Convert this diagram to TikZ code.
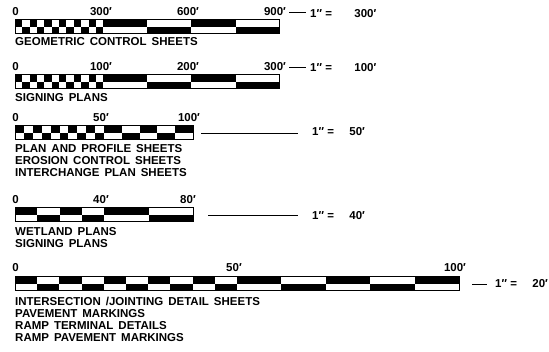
\documentclass[tikz,border=0pt]{standalone}
\usepackage{fontspec}
\setmainfont{Liberation Sans}
\usetikzlibrary{positioning}
\tikzset{
  every node/.style={inner sep=0pt, font=\fontsize{11.5}{12}\selectfont\bfseries},
  num/.style={anchor=base},
  ratio/.style={anchor=base west},
  sheet/.style={anchor=north west, align=left,
    execute at begin node={\spaceskip=5pt\relax}},
  frame/.style={draw, line width=1pt},
  rule/.style={line width=0.8pt},
}
% #1 name, #2 top, #3 cells, #4 cell width, #5 blocks, #6 block width
\newcommand{\drawscale}[6]{
  \foreach \i in {1,...,#3}
    \fill ({15+(\i-1)*#4},{#2+mod(\i-1,2)*7}) rectangle ++(#4,7);
  \foreach \j in {1,...,#5}
    \fill ({15+#3*#4+(\j-1)*#6},{#2+mod(\j-1,2)*7}) rectangle ++(#6,7);
  \draw[frame] (15,#2) rectangle ({15+#3*#4+#5*#6},#2+14);
  \coordinate (#1) at ({15+#3*#4+#5*#6},#2+7);
}

\begin{document}
\begin{tikzpicture}[x=1pt, y=-1pt]
  \useasboundingbox (0,0) rectangle (549,352);

  % 1" = 300'
  \drawscale{b1}{20}{12}{7.35}{4}{44.1}
  \node[num] (n10) at (15.5,16) {0};
  \node[num] (n11) at (101,16) {300′};
  \node[num] (n12) at (188,16) {600′};
  \node[num] (n13) at (275,16) {900′};
  \node[ratio] (s1) at (310,18) {1″ =};
  \node[base right=22pt of s1] (v1) {300′};
  \draw[rule, shorten <=3pt, shorten >=4pt] (n13.east) -- (n13.east -| s1.west);
  \node[sheet] (c1) at (15,37) {GEOMETRIC CONTROL SHEETS};

  % 1" = 100'
  \drawscale{b2}{75}{12}{7.35}{4}{44.1}
  \node[num] (n20) at (15.5,71) {0};
  \node[num] (n21) at (101,71) {100′};
  \node[num] (n22) at (188,71) {200′};
  \node[num] (n23) at (275,71) {300′};
  \node[ratio] (s2) at (310,72) {1″ =};
  \node[base right=22pt of s2] (v2) {100′};
  \draw[rule, shorten <=3pt, shorten >=4pt] (n23.east) -- (n23.east -| s2.west);
  \node[sheet] (c2) at (15,93.5) {SIGNING PLANS};

  % 1" = 50'
  \drawscale{b3}{126}{10}{8.9}{5}{17.8}
  \node[num] (n30) at (15.5,122) {0};
  \node[num] (n31) at (101,122) {50′};
  \node[num] (n32) at (189,122) {100′};
  \node[ratio] (s3) at (312,136) {1″ =};
  \node[base right=15pt of s3] (v3) {50′};
  \draw[rule, shorten <=8pt, shorten >=14pt] (b3) -- (b3 -| s3.west);
  \node[sheet] (c3) at (15,144) {PLAN AND PROFILE SHEETS\\EROSION CONTROL SHEETS\\INTERCHANGE PLAN SHEETS};

  % 1" = 40'
  \drawscale{b4}{208}{4}{22.25}{2}{44.5}
  \node[num] (n40) at (15.5,204) {0};
  \node[num] (n41) at (101,204) {40′};
  \node[num] (n42) at (188,204) {80′};
  \node[ratio] (s4) at (312,220) {1″ =};
  \node[base right=15pt of s4] (v4) {40′};
  \draw[rule, shorten <=15pt, shorten >=14pt] (b4) -- (b4 -| s4.west);
  \node[sheet] (c4) at (15,227) {WETLAND PLANS\\SIGNING PLANS};

  % 1" = 20'
  \drawscale{b5}{277}{10}{22.2}{5}{44.4}
  \node[num] (n50) at (15.5,272) {0};
  \node[num] (n51) at (234,272) {50′};
  \node[num] (n52) at (455,272) {100′};
  \node[ratio] (s5) at (495,288) {1″ =};
  \node[base right=15pt of s5] (v5) {20′};
  \draw[rule, shorten <=13pt, shorten >=8pt] (b5) -- (b5 -| s5.west);
  \node[sheet] (c5) at (15,296.5) {INTERSECTION /JOINTING DETAIL SHEETS\\PAVEMENT MARKINGS\\RAMP TERMINAL DETAILS\\RAMP PAVEMENT MARKINGS};
\end{tikzpicture}
\end{document}
